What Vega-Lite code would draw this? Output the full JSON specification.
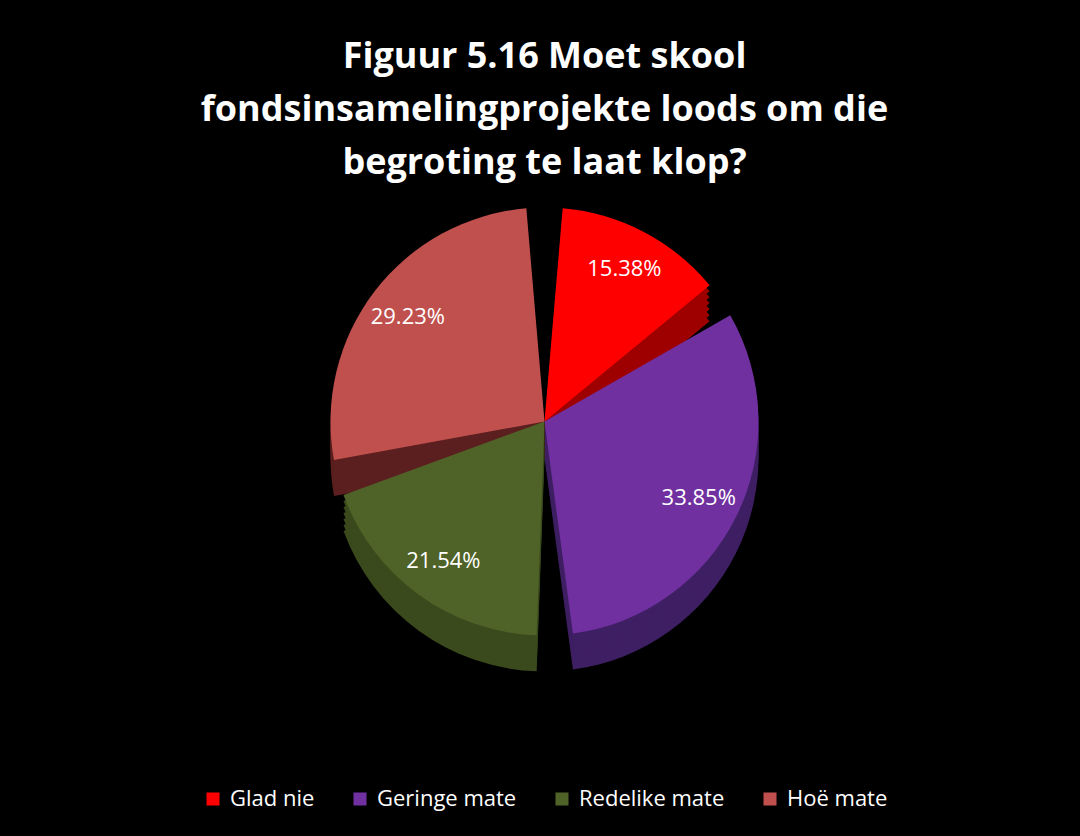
{
  "$schema": "https://vega.github.io/schema/vega-lite/v6.json",
  "width": 1080,
  "height": 836,
  "autosize": {"type": "fit", "contains": "padding"},
  "padding": {"top": 7, "left": 9, "right": 0, "bottom": 0},
  "background": "black",
  "config": {"view": {"stroke": null}, "legend": {"layout": {"bottom": {"anchor": "middle"}}}},
  "title": {
    "text": ["Figuur 5.16 Moet skool", "fondsinsamelingprojekte loods om  die", "begroting te laat klop?"],
    "color": "white",
    "font": "Open Sans",
    "fontSize": 36,
    "fontWeight": "bold",
    "lineHeight": 53,
    "anchor": "middle",
    "frame": "group",
    "offset": -175
  },
  "data": {
    "values": [
      {"kategorie": "Glad nie", "aandeel": 0.1538, "volgorde": 1},
      {"kategorie": "Geringe mate", "aandeel": 0.3385, "volgorde": 2},
      {"kategorie": "Redelike mate", "aandeel": 0.2154, "volgorde": 3},
      {"kategorie": "Hoë mate", "aandeel": 0.2923, "volgorde": 4}
    ]
  },
  "encoding": {
    "theta": {"field": "aandeel", "type": "quantitative", "stack": true},
    "order": {"field": "volgorde", "type": "quantitative"}
  },
  "layer": [
    {
      "mark": {"type": "arc", "outerRadius": 214, "padAngle": 0.17, "yOffset": 36},
      "encoding": {"fill": {"field": "kategorie", "type": "nominal", "scale": {"domain": ["Hoë mate", "Redelike mate", "Geringe mate", "Glad nie"], "range": ["#5A1F1E", "#3A4A1C", "#3F1F63", "#9E0000"]}, "legend": null}}
    },
    {
      "mark": {"type": "arc", "outerRadius": 214, "padAngle": 0.17, "yOffset": 30},
      "encoding": {"fill": {"field": "kategorie", "type": "nominal", "legend": null}}
    },
    {
      "mark": {"type": "arc", "outerRadius": 214, "padAngle": 0.17, "yOffset": 24},
      "encoding": {"fill": {"field": "kategorie", "type": "nominal", "legend": null}}
    },
    {
      "mark": {"type": "arc", "outerRadius": 214, "padAngle": 0.17, "yOffset": 18},
      "encoding": {"fill": {"field": "kategorie", "type": "nominal", "legend": null}}
    },
    {
      "mark": {"type": "arc", "outerRadius": 214, "padAngle": 0.17, "yOffset": 12},
      "encoding": {"fill": {"field": "kategorie", "type": "nominal", "legend": null}}
    },
    {
      "mark": {"type": "arc", "outerRadius": 214, "padAngle": 0.17, "yOffset": 6},
      "encoding": {"fill": {"field": "kategorie", "type": "nominal", "legend": null}}
    },
    {
      "mark": {"type": "arc", "outerRadius": 214, "padAngle": 0.17},
      "encoding": {
        "color": {
          "field": "kategorie",
          "type": "nominal",
          "scale": {"domain": ["Glad nie", "Geringe mate", "Redelike mate", "Hoë mate"], "range": ["#FF0000", "#7030A0", "#4F6228", "#C0504D"]},
          "legend": {
            "title": null,
            "orient": "bottom",
            "direction": "horizontal",
            "offset": -48,
            "labelColor": "white",
            "labelFont": "Open Sans",
            "labelFontSize": 22,
            "symbolType": "square",
            "symbolSize": 170,
            "symbolStrokeWidth": 0,
            "columnPadding": 34,
            "labelOffset": 6
          }
        }
      }
    },
    {
      "mark": {"type": "text", "radius": 172, "color": "white", "font": "Open Sans", "fontSize": 22},
      "encoding": {"text": {"field": "aandeel", "type": "quantitative", "format": ".2%"}}
    }
  ]
}
